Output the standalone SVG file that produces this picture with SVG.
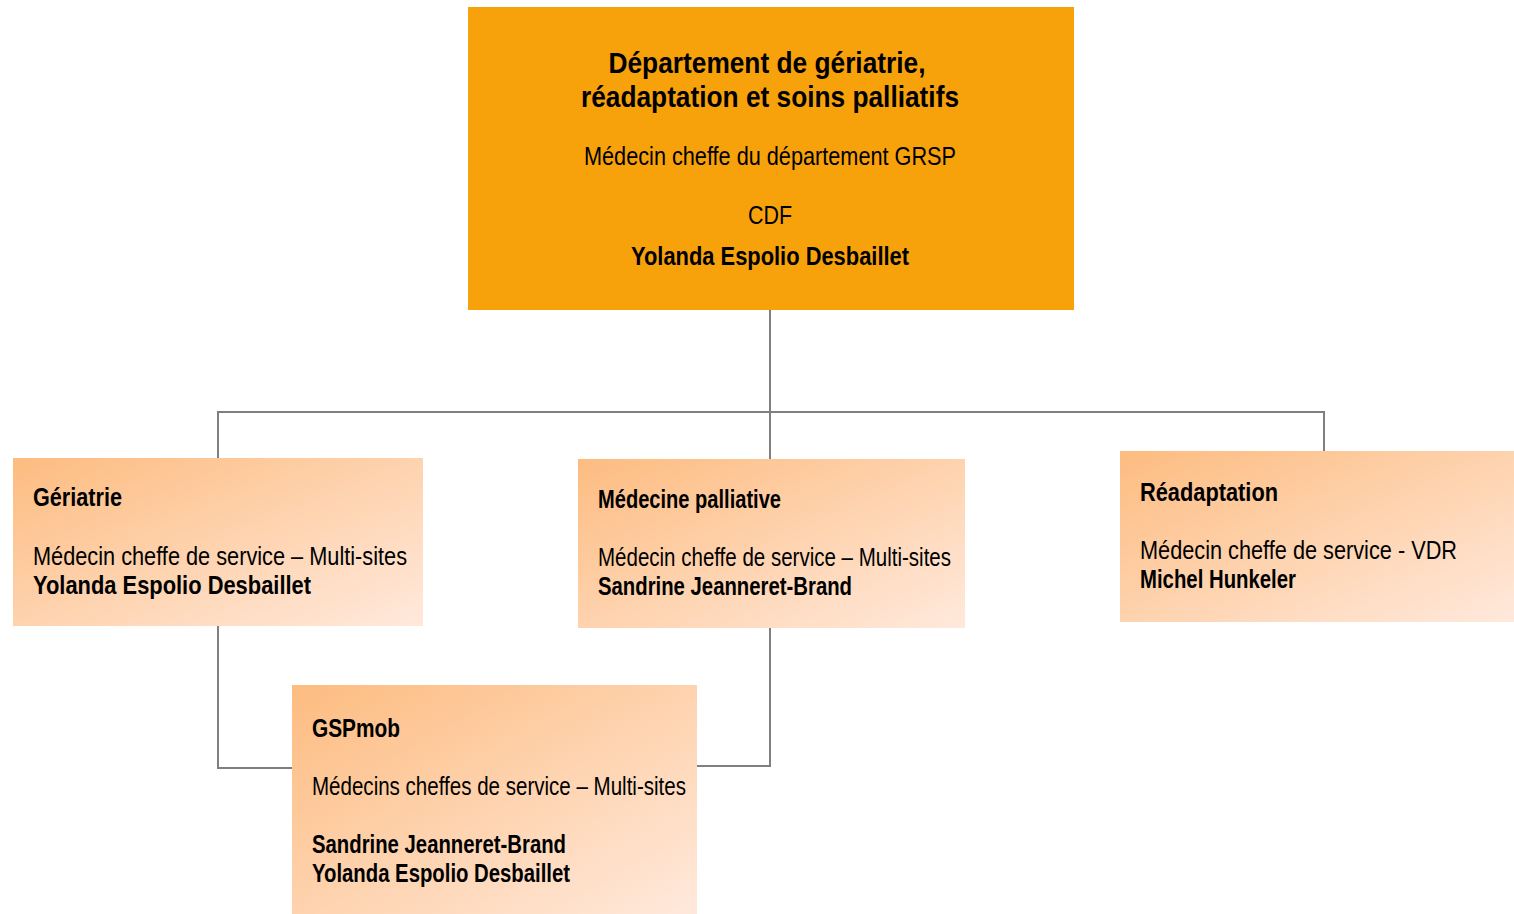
<svg xmlns="http://www.w3.org/2000/svg" width="1514" height="914" viewBox="0 0 1514 914">
<defs>
<linearGradient id="peach" x1="0" y1="0" x2="1" y2="1">
<stop offset="0" stop-color="#FDBC80"/>
<stop offset="1" stop-color="#FFE9DC"/>
</linearGradient>
<style>
.t{font-family:"Liberation Sans",Arial,sans-serif;fill:#000;}
.b{font-weight:bold;}
.c{text-anchor:middle;}
.conn{fill:none;stroke:#7F7F7F;stroke-width:2;}
</style>
</defs>
<rect width="1514" height="914" fill="#fff"/>
<g id="connectors">
<path class="conn" d="M770,310 V412 M218,458 V412 H1324 V451 M770,412 V459"/>
<path class="conn" d="M218,626 V768 H292"/>
<path class="conn" d="M770,628 V766 H697"/>
</g>
<g id="node-departement">
<rect x="468" y="7" width="606" height="303" fill="#F8A20B"/>
<text class="t b c" x="767" y="73" font-size="29" textLength="317" lengthAdjust="spacingAndGlyphs">Département de gériatrie,</text>
<text class="t b c" x="770" y="107" font-size="29" textLength="378" lengthAdjust="spacingAndGlyphs">réadaptation et soins palliatifs</text>
<text class="t c" x="770" y="165" font-size="25" textLength="372" lengthAdjust="spacingAndGlyphs">Médecin cheffe du département GRSP</text>
<text class="t c" x="770" y="224" font-size="25" textLength="44" lengthAdjust="spacingAndGlyphs">CDF</text>
<text class="t b c" x="770" y="265" font-size="25" textLength="278" lengthAdjust="spacingAndGlyphs">Yolanda Espolio Desbaillet</text>
</g>
<g id="node-geriatrie">
<rect x="13" y="458" width="410" height="168" fill="url(#peach)"/>
<text class="t b" x="33" y="506" font-size="25" textLength="89" lengthAdjust="spacingAndGlyphs">Gériatrie</text>
<text class="t" x="33" y="565" font-size="25" textLength="374" lengthAdjust="spacingAndGlyphs">Médecin cheffe de service – Multi-sites</text>
<text class="t b" x="33" y="594" font-size="25" textLength="278" lengthAdjust="spacingAndGlyphs">Yolanda Espolio Desbaillet</text>
</g>
<g id="node-palliative">
<rect x="578" y="459" width="387" height="169" fill="url(#peach)"/>
<text class="t b" x="598" y="508" font-size="25" textLength="183" lengthAdjust="spacingAndGlyphs">Médecine palliative</text>
<text class="t" x="598" y="566" font-size="25" textLength="353" lengthAdjust="spacingAndGlyphs">Médecin cheffe de service – Multi-sites</text>
<text class="t b" x="598" y="595" font-size="25" textLength="254" lengthAdjust="spacingAndGlyphs">Sandrine Jeanneret-Brand</text>
</g>
<g id="node-readaptation">
<rect x="1120" y="451" width="394" height="171" fill="url(#peach)"/>
<text class="t b" x="1140" y="501" font-size="25" textLength="138" lengthAdjust="spacingAndGlyphs">Réadaptation</text>
<text class="t" x="1140" y="559" font-size="25" textLength="317" lengthAdjust="spacingAndGlyphs">Médecin cheffe de service - VDR</text>
<text class="t b" x="1140" y="588" font-size="25" textLength="156" lengthAdjust="spacingAndGlyphs">Michel Hunkeler</text>
</g>
<g id="node-gspmob">
<rect x="292" y="685" width="405" height="229" fill="url(#peach)"/>
<text class="t b" x="312" y="737" font-size="25" textLength="88" lengthAdjust="spacingAndGlyphs">GSPmob</text>
<text class="t" x="312" y="795" font-size="25" textLength="374" lengthAdjust="spacingAndGlyphs">Médecins cheffes de service – Multi-sites</text>
<text class="t b" x="312" y="853" font-size="25" textLength="254" lengthAdjust="spacingAndGlyphs">Sandrine Jeanneret-Brand</text>
<text class="t b" x="312" y="882" font-size="25" textLength="258" lengthAdjust="spacingAndGlyphs">Yolanda Espolio Desbaillet</text>
</g>
</svg>
